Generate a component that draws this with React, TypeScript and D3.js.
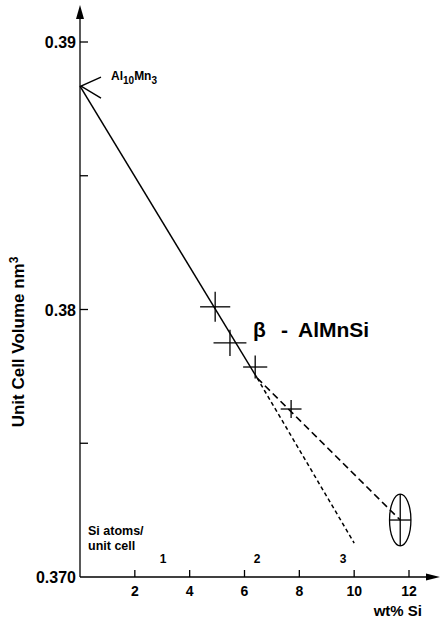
import React from 'react'
import * as d3 from 'd3'

// measured points: wt% Si vs unit cell volume (nm^3)
const wtSi = [4.93, 5.47, 6.39, 7.7]
const volume = [0.3801, 0.37875, 0.37785, 0.37628]
const wtErr = [0.55, 0.6, 0.44, 0.38]
const volErr = [0.00056, 0.00049, 0.00043, 0.00034]

// the high-Si point drawn with an error ellipse
const ellipseWt = [11.68]
const ellipseVol = [0.37213]
const ellipseWtErr = [0.39]
const ellipseVolErr = [0.00097]

// Al10Mn3 end member (0 wt% Si)
const endWt = 0
const endVol = 0.38835

// fit line and the two extrapolations
const solidWt = [0, 6.46]
const solidVol = [0.38835, 0.37744]
const dash1Wt = [6.46, 10.0]
const dash1Vol = [0.37744, 0.37127]
const dash2Wt = [6.46, 11.68]
const dash2Vol = [0.37744, 0.37213]

const xTicks = [2, 4, 6, 8, 10, 12]
const yMajor = [0.37, 0.38, 0.39]
const yMajorLabels = ['0.370', '0.38', '0.39']
const yMinor = [0.375, 0.385]

// Si atoms per unit cell, placed on the wt% scale
const atomLabels = ['1', '2', '3']
const atomWt = [3.03, 6.46, 9.6]

const font = 'Liberation Sans, Arial, Helvetica, sans-serif'

const App = () => {
  const width = 442
  const height = 619

  const x = d3.scaleLinear().domain([0, 12]).range([80, 409])
  const y = d3.scaleLinear().domain([0.37, 0.39]).range([577, 42])

  const line = d3.line<[number, number]>()
    .x(d => x(d[0]))
    .y(d => y(d[1]))

  const zip = (a: number[], b: number[]) => a.map((v, i) => [v, b[i]] as [number, number])

  const x0 = x(0)
  const y0 = y(0.37)

  return (
    <svg width={width} height={height} style={{ position: 'absolute', left: 0, top: 0, background: '#fff' }}
      fontFamily={font} fontWeight="bold">
      {/* axes */}
      <line x1={x0} y1={y0} x2={x0} y2={14} stroke="#000" strokeWidth={1.3} />
      <path d={`M${x0},5 L${x0 - 4},19 L${x0 + 4},19 Z`} fill="#000" />
      <line x1={x0} y1={y0} x2={428} y2={y0} stroke="#000" strokeWidth={1.3} />
      <path d={`M440,${y0} L426,${y0 - 3.5} L426,${y0 + 3.5} Z`} fill="#000" />

      {/* y ticks */}
      {yMajor.map((v, i) => (
        <g key={'ym' + i}>
          {i > 0 && <line x1={x0} x2={x0 + 8} y1={y(v)} y2={y(v)} stroke="#000" strokeWidth={1.3} />}
          <text x={76} y={y(v) + 6} textAnchor="end" fontSize={16}>{yMajorLabels[i]}</text>
        </g>
      ))}
      {yMinor.map((v, i) => (
        <line key={'yn' + i} x1={x0} x2={x0 + 8} y1={y(v)} y2={y(v)} stroke="#000" strokeWidth={1.3} />
      ))}

      {/* x ticks */}
      {xTicks.map(v => (
        <g key={'x' + v}>
          <line x1={x(v)} x2={x(v)} y1={y0} y2={y0 - 7} stroke="#000" strokeWidth={1.3} />
          <text x={x(v)} y={596} textAnchor="middle" fontSize={14}>{v}</text>
        </g>
      ))}
      <text x={422} y={616} textAnchor="end" fontSize={15}>wt% Si</text>

      {/* Si atoms per unit cell */}
      <text x={88} y={535} fontSize={12.5}>Si atoms/</text>
      <text x={88} y={550} fontSize={12.5}>unit cell</text>
      {atomLabels.map((t, i) => (
        <text key={'a' + t} x={x(atomWt[i])} y={563} textAnchor="middle" fontSize={12}>{t}</text>
      ))}

      {/* y label */}
      <text transform="translate(24,342) rotate(-90)" textAnchor="middle" fontSize={17}>
        Unit Cell Volume nm<tspan dy={-6} fontSize={12}>3</tspan>
      </text>

      {/* lines */}
      <path d={line(zip(solidWt, solidVol)) || ''} fill="none" stroke="#000" strokeWidth={1.5} />
      <path d={line(zip(dash1Wt, dash1Vol)) || ''} fill="none" stroke="#000" strokeWidth={1.5} strokeDasharray="4,3" />
      <path d={line(zip(dash2Wt, dash2Vol)) || ''} fill="none" stroke="#000" strokeWidth={1.6} strokeDasharray="7,4" />

      {/* crosses */}
      {wtSi.map((v, i) => (
        <g key={'c' + i} stroke="#000" strokeWidth={1.3}>
          <line x1={x(v - wtErr[i])} x2={x(v + wtErr[i])} y1={y(volume[i])} y2={y(volume[i])} />
          <line x1={x(v)} x2={x(v)} y1={y(volume[i] - volErr[i])} y2={y(volume[i] + volErr[i])} />
        </g>
      ))}

      {/* ellipse point */}
      {ellipseWt.map((v, i) => (
        <g key={'e' + i} stroke="#000" strokeWidth={1.3} fill="none">
          <ellipse cx={x(v)} cy={y(ellipseVol[i])}
            rx={x(v + ellipseWtErr[i]) - x(v)} ry={y(ellipseVol[i]) - y(ellipseVol[i] + ellipseVolErr[i])} />
          <line x1={x(v - ellipseWtErr[i])} x2={x(v + ellipseWtErr[i])} y1={y(ellipseVol[i])} y2={y(ellipseVol[i])} />
          <line x1={x(v)} x2={x(v)} y1={y(ellipseVol[i] - ellipseVolErr[i])} y2={y(ellipseVol[i] + ellipseVolErr[i])} />
        </g>
      ))}

      {/* Al10Mn3 pointer */}
      <path d={`M${x(endWt) + 21},${y(endVol) - 9} L${x(endWt) + 1},${y(endVol)} L${x(endWt) + 21},${y(endVol) + 12}`}
        fill="none" stroke="#000" strokeWidth={1.4} />
      <text x={111} y={80} fontSize={12}>
        Al<tspan dy={4} fontSize={10}>10</tspan><tspan dy={-4}>Mn</tspan><tspan dy={4} fontSize={10}>3</tspan>
      </text>

      {/* phase label */}
      <text x={253} y={337} fontSize={21}>β</text>
      <text x={281} y={337} fontSize={21}>-</text>
      <text x={298} y={337} fontSize={21}>AlMnSi</text>
    </svg>
  )
}

export default App
